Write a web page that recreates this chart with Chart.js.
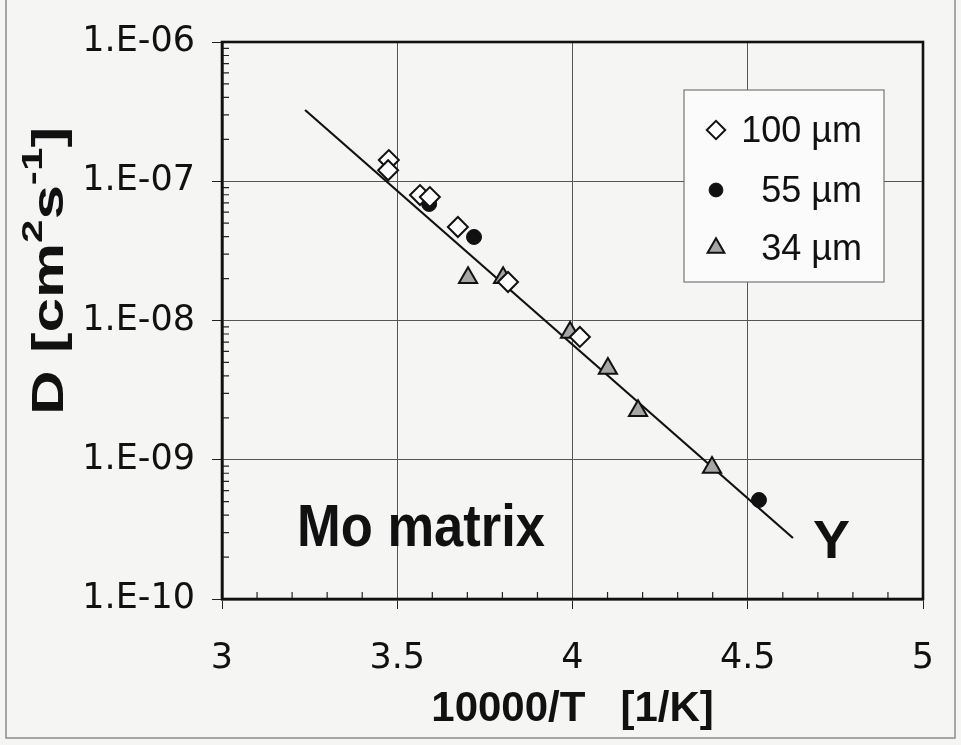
<!DOCTYPE html>
<html>
<head>
<meta charset="utf-8">
<script src="https://cdn.jsdelivr.net/npm/chart.js@4/dist/chart.umd.min.js"></script>
<style>
html, body { margin: 0; padding: 0; background: #f5f5f4; }
#wrap { width: 961px; height: 745px; position: relative; }
</style>
</head>
<body>
<div id="wrap"><canvas id="myChart" width="961" height="745"></canvas></div>
<script>
// values (x = 10000/T, y = D in cm2/s)
var d100x = [3.476, 3.474, 3.565, 3.593, 3.673, 3.816, 4.021];
var d100y = [1.42e-7, 1.20e-7, 7.96e-8, 7.7e-8, 4.69e-8, 1.89e-8, 7.62e-9];
var d55x = [3.591, 3.719, 4.532];
var d55y = [6.87e-8, 3.98e-8, 5.14e-10];
var d34x = [3.702, 3.802, 3.993, 4.101, 4.187, 4.398];
var d34y = [2.03e-8, 2.03e-8, 8.2e-9, 4.52e-9, 2.25e-9, 8.8e-10];
var fitX = [3.237, 4.629];
var fitY = [3.25e-7, 2.74e-10];
var seriesNames = ['100 µm', '55 µm', '34 µm'];
var xTicks = [3, 3.5, 4, 4.5, 5];
var xTickLabels = ['3', '3.5', '4', '4.5', '5'];
var yTicks = [1e-10, 1e-9, 1e-8, 1e-7, 1e-6];
var yTickLabels = ['1.E-10', '1.E-09', '1.E-08', '1.E-07', '1.E-06'];

var FAM = '"Liberation Sans", Arial, Helvetica, sans-serif';
var TICKFAM = '"DejaVu Sans", "Liberation Sans", sans-serif';

function pts(xs, ys) {
	var out = [];
	for (var i = 0; i < xs.length; i++) out.push({ x: xs[i], y: ys[i] });
	return out;
}

// fit text to a given width by squeezing/stretching it horizontally
function fitText(c, txt, font, x, y, w) {
	c.save();
	c.font = font;
	var m = c.measureText(txt).width;
	c.translate(x, y);
	c.scale(w / m, 1);
	c.fillText(txt, 0, 0);
	c.restore();
}

var decor = {
	id: 'decor',
	beforeDraw: function (chart) {
		var c = chart.ctx;
		c.save();
		c.fillStyle = '#f5f5f4';
		c.fillRect(0, 0, chart.width, chart.height);
		// page edge of the scan
		c.strokeStyle = '#8c8c8c';
		c.lineWidth = 1.5;
		c.strokeRect(6, -10, 949, 748);
		c.restore();
	},
	afterDraw: function (chart) {
		var c = chart.ctx, a = chart.chartArea;
		var xs = chart.scales.x, ys = chart.scales.y;
		c.save();

		// minor ticks, drawn inside the frame
		c.strokeStyle = '#222';
		c.lineWidth = 1.2;
		c.beginPath();
		for (var i = 1; i < 20; i++) {
			if (i % 5 === 0) continue;
			var px = xs.getPixelForValue(3 + i * 0.1);
			c.moveTo(px, a.bottom);
			c.lineTo(px, a.bottom - 7);
		}
		for (var e = -10; e < -6; e++) {
			for (var k = 2; k < 10; k++) {
				var py = ys.getPixelForValue(k * Math.pow(10, e));
				c.moveTo(a.left, py);
				c.lineTo(a.left + 7, py);
			}
		}
		c.stroke();

		// frame
		c.strokeStyle = '#111';
		c.lineWidth = 2.6;
		c.strokeRect(a.left, a.top, a.right - a.left, a.bottom - a.top);

		// y title with superscripts
		var parts = [['D [cm', 44, 0], ['2', 30, 21], ['s', 44, 0], ['-1', 30, 21], [']', 44, 0]];
		var total = 0;
		parts.forEach(function (p) {
			c.font = 'bold ' + p[1] + 'px ' + FAM;
			p.push(c.measureText(p[0]).width);
			total += p[3];
		});
		c.save();
		c.fillStyle = '#111';
		c.textBaseline = 'alphabetic';
		c.translate(63, 415);
		c.rotate(-Math.PI / 2);
		c.scale(288 / total, 1);
		var tx = 0;
		parts.forEach(function (p) {
			c.font = 'bold ' + p[1] + 'px ' + FAM;
			c.fillText(p[0], tx, -p[2]);
			tx += p[3];
		});
		c.restore();

		// labels in the plot
		c.fillStyle = '#111';
		c.textBaseline = 'alphabetic';
		fitText(c, 'Mo matrix', 'bold 60px ' + FAM, 297, 546, 248);
		fitText(c, 'Y', 'bold 54px ' + FAM, 813, 558, 37);

		// legend box
		var lx = 684, ly = 90, lw = 200, lh = 192;
		c.fillStyle = '#fbfbfb';
		c.fillRect(lx, ly, lw, lh);
		c.strokeStyle = '#777';
		c.lineWidth = 1.2;
		c.strokeRect(lx, ly, lw, lh);
		var rows = [130, 190, 248];
		for (var j = 0; j < 3; j++) {
			var ds = chart.data.datasets[j];
			c.fillStyle = ds.backgroundColor;
			c.strokeStyle = ds.borderColor;
			c.lineWidth = ds.borderWidth;
			Chart.helpers.drawPoint(c, {
				pointStyle: ds.pointStyle,
				radius: ds.pointRadius * 0.92,
				rotation: 0,
				borderWidth: ds.borderWidth
			}, 716, rows[j]);
			c.fillStyle = '#111';
			c.font = '36px ' + FAM;
			c.textAlign = 'right';
			c.textBaseline = 'middle';
			c.fillText(seriesNames[j], 862, rows[j] + 2);
		}
		c.restore();
	}
};

var ctx = document.getElementById('myChart').getContext('2d');
new Chart(ctx, {
	type: 'scatter',
	data: {
		datasets: [{
			label: seriesNames[0],
			data: pts(d100x, d100y),
			pointStyle: 'rectRot',
			pointRadius: 10,
			backgroundColor: '#ffffff',
			borderColor: '#111',
			borderWidth: 2
		}, {
			label: seriesNames[1],
			data: pts(d55x, d55y),
			pointStyle: 'circle',
			pointRadius: 7.5,
			backgroundColor: '#111',
			borderColor: '#111',
			borderWidth: 1
		}, {
			label: seriesNames[2],
			data: pts(d34x, d34y),
			pointStyle: 'triangle',
			pointRadius: 10.5,
			backgroundColor: '#a6a6a6',
			borderColor: '#111',
			borderWidth: 2
		}, {
			label: 'fit',
			data: pts(fitX, fitY),
			showLine: true,
			pointRadius: 0,
			borderColor: '#111',
			borderWidth: 2.2,
			backgroundColor: '#111'
		}]
	},
	options: {
		responsive: false,
		animation: false,
		layout: { padding: { top: 42, right: 38, left: 0, bottom: 0 } },
		plugins: { legend: { display: false }, tooltip: { enabled: false } },
		scales: {
			x: {
				type: 'linear',
				min: 3,
				max: 5,
				afterBuildTicks: function (s) { s.ticks = xTicks.map(function (v) { return { value: v }; }); },
				afterFit: function (s) { s.height = 146; s.paddingLeft = 0; s.paddingRight = 0; },
				ticks: {
					autoSkip: false,
					maxRotation: 0,
					padding: 29,
					color: '#111',
					font: { family: TICKFAM, size: 35 },
					callback: function (v, i) { return xTickLabels[i]; }
				},
				grid: { color: '#555', lineWidth: 1, tickLength: 10, tickColor: '#222' },
				border: { display: true, color: '#111', width: 2.6 },
				title: {
					display: true,
					text: '10000/T   [1/K]',
					color: '#111',
					font: { family: FAM, size: 42, weight: 'bold' },
					padding: { top: 4, bottom: 10 }
				}
			},
			y: {
				type: 'logarithmic',
				min: 1e-10,
				max: 1e-6,
				afterBuildTicks: function (s) { s.ticks = yTicks.map(function (v) { return { value: v }; }); },
				afterFit: function (s) { s.width = 222; s.paddingTop = 0; s.paddingBottom = 0; },
				ticks: {
					autoSkip: false,
					padding: 17,
					color: '#111',
					font: { family: TICKFAM, size: 35 },
					callback: function (v, i) { return yTickLabels[i]; }
				},
				grid: { color: '#555', lineWidth: 1, tickLength: 10, tickColor: '#222' },
				border: { display: true, color: '#111', width: 2.6 }
			}
		}
	},
	plugins: [decor]
});
</script>
</body>
</html>
